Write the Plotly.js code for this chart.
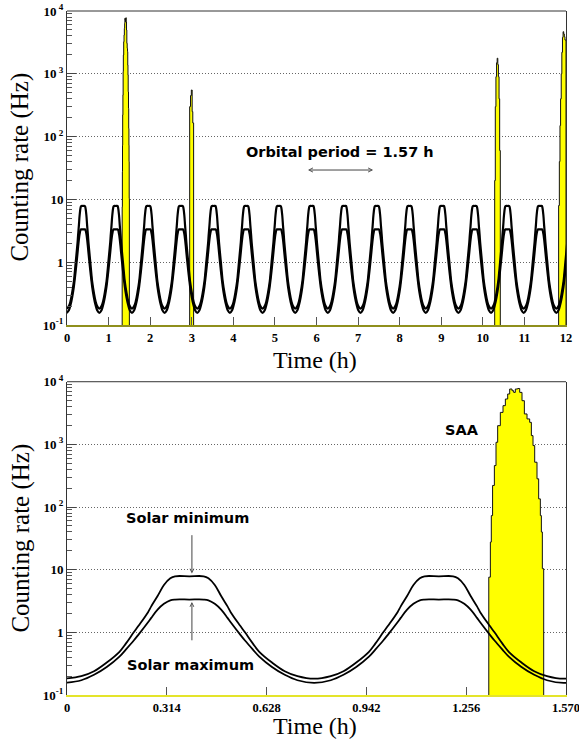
<!DOCTYPE html>
<html><head><meta charset="utf-8">
<script src="https://cdn.plot.ly/plotly-3.0.1.min.js"></script>
<style>body{margin:0;background:#fff}#chart{width:579px;height:743px}</style>
</head><body><div id="chart"></div>
<script>
// Times (h) of the rate maxima along the orbits
const peakTimes = [0.385, 1.17, 1.955, 2.74, 3.525, 4.31, 5.095, 5.88, 6.665, 7.45, 8.235, 9.02, 9.805, 10.59, 11.375, 12.16];
// Shape of one rate bump around a maximum (offset in h) for the two solar conditions
const bumpOffset = [-0.3925, -0.34, -0.30, -0.26, -0.22, -0.20, -0.175, -0.16, -0.13, -0.12, -0.10, -0.08, -0.06, -0.045, 0, 0.045, 0.06, 0.08, 0.10, 0.12, 0.13, 0.16, 0.175, 0.20, 0.22, 0.26, 0.30, 0.34];
const rateSolarMin = [0.182, 0.20, 0.24, 0.33, 0.49, 0.66, 1.0, 1.27, 2.1, 2.6, 3.8, 5.7, 7.3, 7.85, 7.85, 7.85, 7.3, 5.7, 3.8, 2.6, 2.1, 1.27, 1.0, 0.66, 0.49, 0.33, 0.24, 0.20];
const rateSolarMax = [0.156, 0.172, 0.21, 0.28, 0.41, 0.53, 0.74, 0.92, 1.45, 1.7, 2.3, 2.85, 3.25, 3.34, 3.34, 3.34, 3.25, 2.85, 2.3, 1.7, 1.45, 0.92, 0.74, 0.53, 0.41, 0.28, 0.21, 0.172];

// SAA passages (histograms): bin edges (h) and counting rate (Hz)
const saa1Edges = [1.327, 1.332, 1.335, 1.339, 1.3446, 1.3498, 1.355, 1.3634, 1.3718, 1.3792, 1.3865, 1.3928, 1.4002, 1.4054, 1.4106, 1.418, 1.4243, 1.4316, 1.439, 1.4474, 1.4557, 1.461, 1.4662, 1.4715, 1.4788, 1.484, 1.4893, 1.4925, 1.4956, 1.4998];
const saa1Rate = [7.6, 27.6, 73, 221, 459, 1080, 1990, 3240, 4150, 5300, 6370, 7650, 7190, 6760, 7650, 7800, 6760, 4980, 3060, 2550, 2250, 1380, 957, 519, 282, 135, 73, 40, 10.4];
const saa2Edges = [2.95, 2.97, 2.99, 3.01, 3.025, 3.045];
const saa2Rate = [300, 450, 552, 250, 165];
const saa3Edges = [10.285, 10.30, 10.315, 10.33, 10.345, 10.36, 10.375, 10.39, 10.405, 10.42];
const saa3Rate = [20, 300, 900, 1500, 1770, 1400, 900, 400, 60];
const saa4Edges = [11.823, 11.84, 11.855, 11.87, 11.885, 11.90, 11.915, 11.93, 11.945, 11.96, 11.975, 12.0];
const saa4Rate = [8, 40, 150, 400, 1000, 2200, 3800, 4680, 4300, 3900, 3450];

// Axis ticks
const topXTicks = [0,1,2,3,4,5,6,7,8,9,10,11,12];
const botXTicks = [0, 0.314, 0.628, 0.942, 1.256, 1.570];
const botXText = ['0', '0.314', '0.628', '0.942', '1.256', '1.570'];
const yTickVals = [0.1, 1, 10, 100, 1000, 10000];
const yTickText = ['<b>10</b><sup><b>-1</b></sup>', '<b>1</b>', '<b>10</b>', '<b>10</b><sup><b> 2</b></sup>', '<b>10</b><sup><b> 3</b></sup>', '<b>10</b><sup><b> 4</b></sup>'];
const RATE_FLOOR = 0.1;

const yMinor = [];
[0.1, 1, 10, 100, 1000].forEach(d => { for (let m = 2; m <= 9; m++) yMinor.push(d * m); });

// Build orbit curves from the bump shape at each maximum
const orbitT = [], orbitMin = [], orbitMax = [];
peakTimes.forEach(c => {
  bumpOffset.forEach((o, i) => { orbitT.push(c + o); orbitMin.push(rateSolarMin[i]); orbitMax.push(rateSolarMax[i]); });
});

function histo(edges, rate, xa, ya) {
  const x = [edges[0]], y = [RATE_FLOOR];
  rate.forEach((r, i) => { x.push(edges[i]); y.push(r); });
  x.push(edges[edges.length - 1]); y.push(RATE_FLOOR);
  return {x, y, xaxis: xa, yaxis: ya, type: 'scatter', mode: 'lines', line: {shape: 'hv', color: '#111', width: 1},
    fill: 'toself', fillcolor: '#ffff00', hoverinfo: 'skip', showlegend: false};
}
function curve(y, xa, ya, w) {
  return {x: orbitT, y, xaxis: xa, yaxis: ya, type: 'scatter', mode: 'lines',
    line: {shape: 'spline', smoothing: 1, color: '#000', width: w}, hoverinfo: 'skip', showlegend: false};
}

const traces = [
  histo(saa1Edges, saa1Rate, 'x', 'y'),
  histo(saa2Edges, saa2Rate, 'x', 'y'),
  histo(saa3Edges, saa3Rate, 'x', 'y'),
  histo(saa4Edges, saa4Rate, 'x', 'y'),
  curve(orbitMin, 'x', 'y', 2.2),
  curve(orbitMax, 'x', 'y', 2.2),
  histo(saa1Edges, saa1Rate, 'x2', 'y2'),
  curve(orbitMin, 'x2', 'y2', 1.8),
  curve(orbitMax, 'x2', 'y2', 1.8)
];

const serif = 'Liberation Serif, Times New Roman, serif';
const tickFontX = {family: serif, size: 12.5, color: '#000', weight: 'bold'};
const tickFontY = {family: serif, size: 13, color: '#000', weight: 'bold'};
const titleFont = {family: serif, size: 24, color: '#000'};
const titleFontY = {family: serif, size: 25, color: '#000'};
const labelFont = {family: 'DejaVu Sans, sans-serif', size: 14.5, color: '#000', weight: 'bold'};

function xAxis(range, vals, text, dom, anchor, lineColor) {
  return {domain: dom, anchor, range, tickvals: vals, ticktext: text.map(t => '<b>' + t + '</b>'), ticks: 'inside', ticklen: 8, tickwidth: 1,
    tickcolor: '#555', showline: true, linecolor: lineColor, linewidth: 2, showgrid: false, zeroline: false,
    tickfont: tickFontX, ticklabeloverflow: 'allow', fixedrange: true};
}
function yAxis(dom, anchor) {
  return {domain: dom, anchor, type: 'log', range: [-1, 4], tickvals: yTickVals, ticktext: yTickText,
    ticks: 'inside', ticklen: 9, tickwidth: 1, tickcolor: '#444', showline: true, mirror: true, linecolor: '#333',
    linewidth: 1, showgrid: true, gridcolor: '#666', griddash: '1px,2px', gridwidth: 1, zeroline: false,
    tickfont: tickFontY, ticklabeloverflow: 'allow', fixedrange: true,
    minor: {tickvals: yMinor, ticks: 'inside', ticklen: 5, tickwidth: 1, tickcolor: '#555', showgrid: false}};
}

const arrowCommon = {showarrow: true, text: '', arrowhead: 5, arrowsize: 0.8, arrowwidth: 1, arrowcolor: '#444',
  standoff: 0, startstandoff: 0};

const layout = {
  width: 579, height: 743,
  margin: {l: 67, r: 13, t: 11, b: 48},
  paper_bgcolor: '#fff', plot_bgcolor: '#fff',
  showlegend: false,
  xaxis: xAxis([0, 12], topXTicks, topXTicks.map(String), [0, 1], 'y', '#8f8f1c'),
  yaxis: yAxis([0.5409, 1], 'x'),
  xaxis2: xAxis([0, 1.57], botXTicks, botXText, [0, 1], 'y2', '#e4e42a'),
  yaxis2: yAxis([0, 0.458], 'x2'),
  shapes: [
    {type: 'line', xref: 'x domain', yref: 'y domain', x0: 0, x1: 1, y0: 1, y1: 1, line: {color: '#333', width: 1}},
    {type: 'line', xref: 'x2 domain', yref: 'y2 domain', x0: 0, x1: 1, y0: 1, y1: 1, line: {color: '#333', width: 1}}
  ],
  annotations: [
    {text: 'Counting rate (Hz)', xref: 'paper', yref: 'paper', x: -0.094, y: 0.7712, textangle: -90,
      showarrow: false, font: titleFontY, xanchor: 'center', yanchor: 'middle'},
    {text: 'Counting rate (Hz)', xref: 'paper', yref: 'paper', x: -0.094, y: 0.2288, textangle: -90,
      showarrow: false, font: titleFontY, xanchor: 'center', yanchor: 'middle'},
    {text: 'Time (h)', xref: 'paper', yref: 'paper', x: 0.497, y: 0.49, showarrow: false, font: titleFont,
      xanchor: 'center', yanchor: 'middle'},
    {text: 'Time (h)', xref: 'paper', yref: 'paper', x: 0.497, y: -0.046, showarrow: false, font: titleFont,
      xanchor: 'center', yanchor: 'middle'},
    {text: 'Orbital period = 1.57 h', xref: 'x', yref: 'y', x: 6.56, y: 1.76, showarrow: false, font: labelFont},
    Object.assign({xref: 'x', yref: 'y', axref: 'x', ayref: 'y', x: 7.36, y: 1.468, ax: 5.76, ay: 1.468,
      arrowside: 'end+start'}, arrowCommon),
    {text: 'SAA', xref: 'x2', yref: 'y2', x: 1.243, y: 3.236, showarrow: false, font: labelFont},
    {text: 'Solar minimum', xref: 'x2', yref: 'y2', x: 0.38, y: 1.818, showarrow: false, font: labelFont},
    Object.assign({xref: 'x2', yref: 'y2', axref: 'x2', ayref: 'y2', x: 0.393, y: 0.938, ax: 0.393, ay: 1.575}, arrowCommon),
    {text: 'Solar maximum', xref: 'x2', yref: 'y2', x: 0.388, y: -0.522, showarrow: false, font: labelFont},
    Object.assign({xref: 'x2', yref: 'y2', axref: 'x2', ayref: 'y2', x: 0.393, y: 0.486, ax: 0.393, ay: -0.151}, arrowCommon)
  ]
};

Plotly.newPlot('chart', traces, layout, {displayModeBar: false, staticPlot: true});
</script>
</body></html>
